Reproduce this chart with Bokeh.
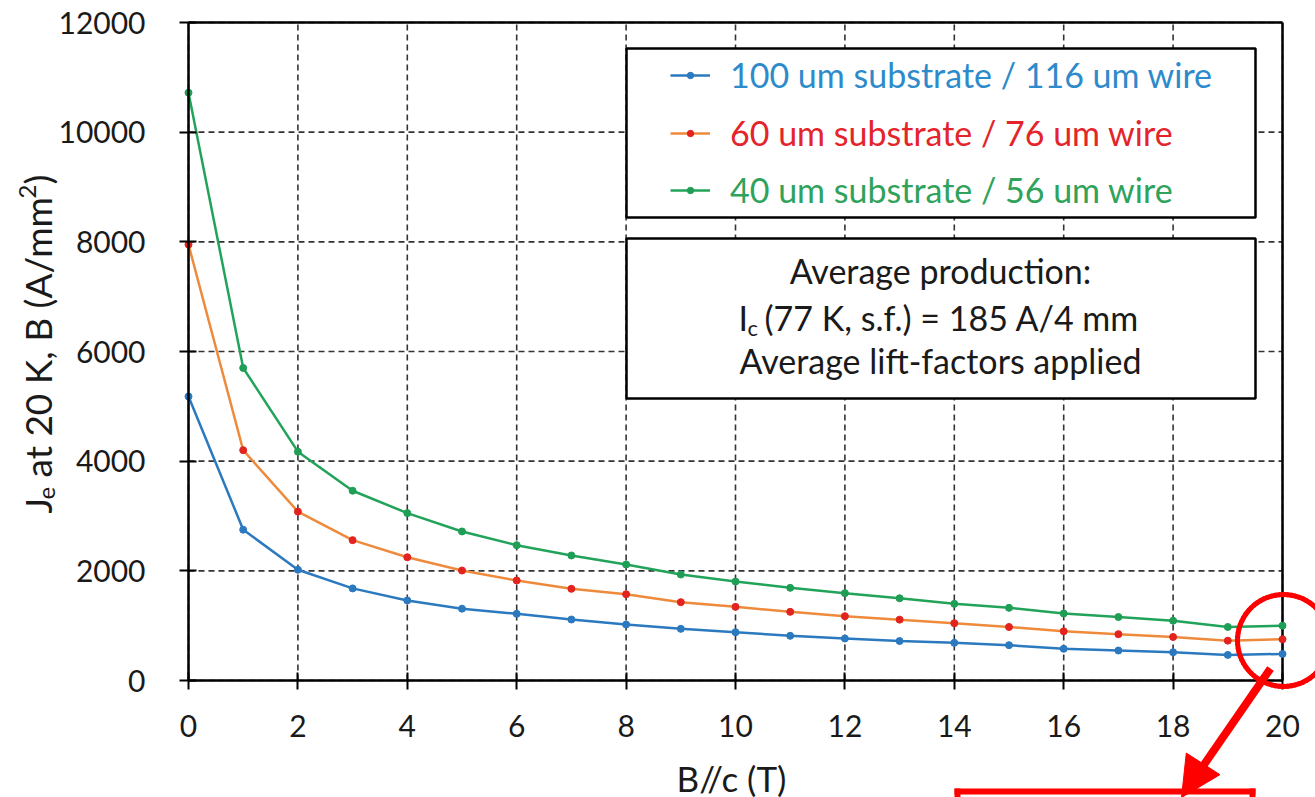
import numpy as np
from bokeh.plotting import figure
from bokeh.models import (Legend, LegendItem, BoxAnnotation, Label, Arrow,
                          NormalHead, FixedTicker, ColumnDataSource)
from bokeh.embed import file_html
from bokeh.resources import INLINE

# ---------------- data ----------------
field_T = list(range(0, 21))
je_100um = [5180, 2750, 2020, 1680, 1460, 1310, 1216, 1112, 1021, 942, 881,
            815, 766, 720, 687, 644, 578, 547, 515, 467, 485]
je_60um = [7950, 4200, 3080, 2560, 2248, 2006, 1824, 1672, 1574, 1429, 1343,
           1252, 1173, 1110, 1045, 976, 897, 845, 794, 727, 752]
je_40um = [10720, 5700, 4173, 3461, 3053, 2718, 2468, 2280, 2116, 1933, 1805,
           1690, 1593, 1500, 1398, 1325, 1222, 1158, 1091, 976, 1000]
series_labels = ["100 um substrate / 116 um wire",
                 "60 um substrate / 76 um wire",
                 "40 um substrate / 56 um wire"]
x_ticks = list(range(0, 21, 2))
y_ticks = list(range(0, 12001, 2000))
X_MIN, X_MAX = 0, 20
Y_MIN, Y_MAX = 0, 12000

FONT = "Lato"
TXT = "#1a1a1a"
RED = "#FF0000"

# layout: axes box in page pixels (x=0 at 188, x=20 at 1282, y=0 at 680, y=12000 at 22)
PX0, PX1, PY0, PY1 = 188.0, 1282.0, 680.0, 22.0
W, H = 1315, 797
sx = (X_MAX - X_MIN) / (PX1 - PX0)
sy = (Y_MAX - Y_MIN) / (PY0 - PY1)
def dx(px):
    return X_MIN + (px - PX0) * sx
def dy(py):
    return Y_MIN + (PY0 - py) * sy

# the frame covers the whole canvas; axes are pinned at x=0 / y=0 so that
# the red highlight marks outside the axes box are not clipped
p = figure(width=W, height=H, x_range=(dx(0), dx(W)), y_range=(dy(H), dy(0)),
           output_backend="svg", toolbar_location=None,
           min_border_left=0, min_border_right=0, min_border_top=0,
           min_border_bottom=0, background_fill_color="white",
           border_fill_color="white")
p.outline_line_color = None
p.xgrid.visible = False
p.ygrid.visible = False

for ax in (p.xaxis, p.yaxis):
    ax.axis_line_width = 2.5
    ax.axis_line_color = "black"
    ax.major_tick_line_width = 2
    ax.major_tick_line_color = "black"
    ax.major_tick_in = 8
    ax.major_tick_out = 9
    ax.minor_tick_line_color = None
    ax.major_label_text_font = FONT
    ax.major_label_text_font_size = "30px"
    ax.major_label_text_color = TXT
p.xaxis.ticker = FixedTicker(ticks=x_ticks)
p.yaxis.ticker = FixedTicker(ticks=y_ticks)
p.xaxis.bounds = (X_MIN, X_MAX)
p.yaxis.bounds = (Y_MIN, Y_MAX)
p.xaxis.fixed_location = Y_MIN
p.yaxis.fixed_location = X_MIN
p.xaxis.major_label_standoff = 25
p.yaxis.major_label_standoff = 34

# dashed grid inside the axes box only
p.multi_line(xs=[[t, t] for t in x_ticks], ys=[[Y_MIN, Y_MAX]] * len(x_ticks),
             line_color="#333333", line_width=1.6, line_dash="6 4")
p.multi_line(xs=[[X_MIN, X_MAX]] * len(y_ticks), ys=[[t, t] for t in y_ticks],
             line_color="#333333", line_width=1.6, line_dash="6 4")
# top and right border of the axes box
p.multi_line(xs=[[X_MIN, X_MAX], [X_MAX, X_MAX]], ys=[[Y_MAX, Y_MAX], [Y_MIN, Y_MAX]],
             line_color="black", line_width=2.5)

styles = [
    (je_100um, "#2B79BE", "#2B79BE", "#2E8BCB"),
    (je_60um, "#EE8A3C", "#E3231D", "#E4242B"),
    (je_40um, "#22A35A", "#1F9E55", "#2FA25B"),
]

# boxes (legend frame and note frame)
for top, bot in ((48, 217), (238, 398)):
    p.add_layout(BoxAnnotation(left=dx(626), right=dx(1255), top=dy(top), bottom=dy(bot),
                               fill_color="white", fill_alpha=1, line_color="black",
                               line_alpha=1, line_width=2.5, level="annotation"))

row_y = [75, 133, 190]
item_h = 40
for (vals, lc, mc, tc), lab_txt, ry in zip(styles, series_labels, row_y):
    l = p.line(field_T, vals, line_color=lc, line_width=2.5)
    s = p.scatter(field_T, vals, size=7, fill_color=mc, line_color=mc)
    leg = Legend(items=[LegendItem(label=lab_txt, renderers=[l, s])],
                 location=(670, H - (ry + item_h / 2)),
                 border_line_color=None, background_fill_alpha=0,
                 padding=0, margin=0, spacing=0,
                 glyph_width=40, glyph_height=16, label_height=item_h,
                 label_standoff=20,
                 label_text_font=FONT, label_text_font_size="34px",
                 label_text_color=tc, label_text_baseline="middle")
    p.add_layout(leg)

# texts
def lab(x, y, text, size="34px", align="left", angle=0.0):
    p.add_layout(Label(x=dx(x), y=dy(y), text=text, text_font=FONT,
                       text_font_size=size, text_color=TXT, text_align=align,
                       text_baseline="middle", angle=angle))

lab(940, 270, "Average production:", align="center")
lab(738, 317, "I")
lab(747, 327, "c", size="22px")
lab(764, 317, "(77 K, s.f.) = 185 A/4 mm")
lab(940, 360, "Average lift-factors applied", align="center")

# axis titles
lab(731, 777, "B//c (T)", size="35px", align="center")
A = np.pi / 2
lab(37, 513, "J", size="37px", angle=A)
lab(46, 499, "e", size="24px", angle=A)
lab(37, 477, "at 20 K, B (A/mm", size="37px", angle=A)
lab(27, 198, "2", size="24px", angle=A)
lab(37, 184, ")", size="37px", angle=A)

# red highlight: circle, arrow, box (segments without heads)
cx, cy, r = 1283.0, 640.0, 46.0
t = np.linspace(0, 2 * np.pi, 73)
circ = ColumnDataSource(dict(
    x0=[dx(cx + r * np.cos(a)) for a in t[:-1]], y0=[dy(cy + r * np.sin(a)) for a in t[:-1]],
    x1=[dx(cx + r * np.cos(a)) for a in t[1:]], y1=[dy(cy + r * np.sin(a)) for a in t[1:]]))
p.add_layout(Arrow(x_start="x0", y_start="y0", x_end="x1", y_end="y1", source=circ,
                   end=None, line_color=RED, line_width=5, line_cap="round"))

bx0, bx1, by0, by1 = 957, 1252, 791, 830
box = ColumnDataSource(dict(
    x0=[dx(bx0), dx(bx0), dx(bx1)], y0=[dy(by0), dy(by0), dy(by0)],
    x1=[dx(bx1), dx(bx0), dx(bx1)], y1=[dy(by0), dy(by1), dy(by1)]))
p.add_layout(Arrow(x_start="x0", y_start="y0", x_end="x1", y_end="y1", source=box,
                   end=None, line_color=RED, line_width=6, line_cap="square"))

p.add_layout(Arrow(x_start=dx(1270), y_start=dy(668), x_end=dx(1196), y_end=dy(775),
                   end=None, line_color=RED, line_width=8))
p.add_layout(Arrow(x_start=dx(1190), y_start=dy(783), x_end=dx(1181), y_end=dy(797),
                   line_color=RED, line_width=1, line_alpha=0,
                   end=NormalHead(size=40, fill_color=RED, line_color=RED)))

open("out.html", "w").write(file_html(p, INLINE))
